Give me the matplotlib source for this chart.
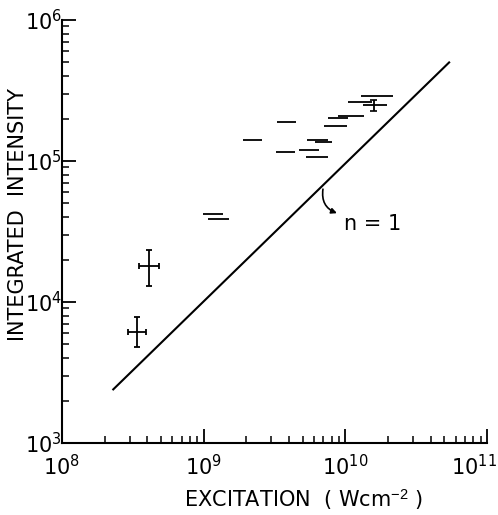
import matplotlib
matplotlib.use('Agg')
import matplotlib.pyplot as plt
import matplotlib.transforms as mtransforms
import numpy as np

plt.rcParams['mathtext.fontset'] = 'custom'
plt.rcParams['mathtext.rm'] = 'Liberation Sans'
plt.rcParams['mathtext.it'] = 'Liberation Sans'

# fitted n = 1 line (end points)
line_x = [2.3e8, 5.4e10]
line_y = [2.4e3, 5.0e5]

# points with both error bars
cross_x = [3.38e8, 4.11e8]
cross_y = [6.1e3, 1.8e4]
cross_xlo = [2.93e8, 3.49e8]
cross_xhi = [3.92e8, 4.84e8]
cross_ylo = [4.8e3, 1.3e4]
cross_yhi = [7.8e3, 2.34e4]

# points with only an excitation range
bar_y = [4.19e4, 3.88e4, 1.40e5, 1.90e5, 1.15e5, 1.19e5, 1.07e5, 1.40e5, 1.36e5,
         1.78e5, 2.03e5, 2.10e5, 2.61e5, 2.89e5, 2.48e5]
bar_xlo = [9.9e8, 1.07e9, 1.91e9, 3.31e9, 3.24e9, 4.67e9, 5.29e9, 5.35e9, 6.12e9,
           7.08e9, 7.6e9, 8.94e9, 1.04e10, 1.29e10, 1.34e10]
bar_xhi = [1.37e9, 1.51e9, 2.57e9, 4.50e9, 4.44e9, 6.56e9, 7.52e9, 7.57e9, 8.04e9,
           1.03e10, 1.05e10, 1.36e10, 1.54e10, 2.16e10, 1.96e10]

# the one bar point that also has an intensity range
vbar_x = [1.58e10]
vbar_ylo = [2.26e5]
vbar_yhi = [2.71e5]

fig = plt.figure(figsize=(4.98, 5.15), dpi=100)
ax = fig.add_axes([0.1245, 0.1398, 0.8535, 0.8214])

ax.plot(line_x, line_y, color='black', lw=1.5)

cx = np.array(cross_x)
cy = np.array(cross_y)
xerr = [cx - np.array(cross_xlo), np.array(cross_xhi) - cx]
yerr = [cy - np.array(cross_ylo), np.array(cross_yhi) - cy]
ax.errorbar(cx, cy, xerr=xerr, yerr=yerr, fmt='none', ecolor='black',
            elinewidth=1.3, capsize=2, capthick=1.3)

ax.hlines(bar_y, bar_xlo, bar_xhi, color='black', lw=1.3)
ax.vlines(vbar_x, vbar_ylo, vbar_yhi, color='black', lw=1.3)
ax.hlines(vbar_ylo + vbar_yhi, [1.5e10, 1.5e10], [1.66e10, 1.66e10], color='black', lw=1.2)

# curved pointer from the line to the label
ax.annotate('', xy=(9.1e9, 4.2e4), xytext=(7.0e9, 6.6e4),
            arrowprops=dict(arrowstyle='-|>', color='black', lw=1.2,
                            mutation_scale=8,
                            connectionstyle='arc3,rad=0.45'))
ax.text(1.55e10, 3.6e4, 'n = 1', fontsize=15, ha='center', va='center')

ax.set_xscale('log')
ax.set_yscale('log')
ax.set_xlim(1e8, 1e11)
ax.set_ylim(1e3, 1e6)

ax.spines['top'].set_visible(False)
ax.spines['right'].set_visible(False)
ax.spines['left'].set_linewidth(1.5)
ax.spines['bottom'].set_linewidth(1.5)

ax.tick_params(which='major', direction='in', length=10, width=1.3, labelsize=15)
ax.tick_params(which='minor', direction='in', length=5, width=1.1)
ax.tick_params(axis='x', which='major', pad=8)
ax.tick_params(axis='y', which='major', pad=0)
ax.set_xticks([1e8, 1e9, 1e10, 1e11])
ax.set_yticks([1e3, 1e4, 1e5, 1e6])

# keep the 10^11 label inside the picture
fig.canvas.draw()
for tick in ax.xaxis.get_major_ticks():
    if tick.get_loc() == 1e11:
        tick.label1.set_horizontalalignment('right')
        tick.label1.set_transform(tick.label1.get_transform() +
                                  mtransforms.ScaledTranslation(7 / 72, 0, fig.dpi_scale_trans))

ax.set_xlabel(r'EXCITATION  ( Wcm$^{-2}$ )', fontsize=15)
ax.set_ylabel('INTEGRATED  INTENSITY', fontsize=15)
ax.xaxis.set_label_coords(0.569, -0.104)
ax.yaxis.set_label_coords(-0.08, 0.539)

fig.savefig('out.png', dpi=100)
